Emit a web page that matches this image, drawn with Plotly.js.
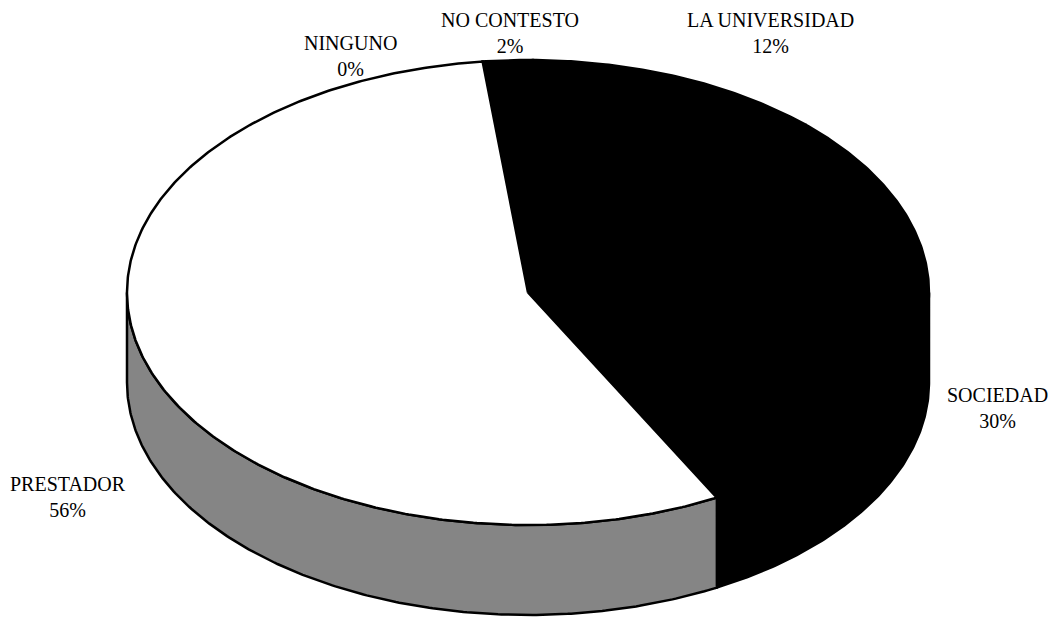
<!DOCTYPE html>
<html>
<head>
<meta charset="utf-8">
<script src="https://cdn.plot.ly/plotly-3.0.1.min.js"></script>
<style>html,body{margin:0;padding:0;background:#fff;}#chart{width:1055px;height:624px;}</style>
</head>
<body>
<div id="chart"></div>
<script>
// ---- data (clockwise order, starting at the top) ----
const categories = ['NO CONTESTO', 'LA UNIVERSIDAD', 'SOCIEDAD', 'PRESTADOR', 'NINGUNO'];
const values = [2, 12, 30, 56, 0];
const percentLabels = ['2%', '12%', '30%', '56%', '0%'];

// ---- styles / geometry (not data) ----
const topColors = ['#000000', '#000000', '#000000', '#ffffff', '#ffffff'];
const sideColors = ['#000000', '#000000', '#000000', '#858585', '#858585'];
const labelPos = [[510, 33], [770, 33], [997, 408], [68, 497], [350, 56]];
const geo = {cx: 528, cy: 292.5, rx: 401, ry: 232.5, depth: 90, start: -6.5};

function pt(deg, dy) {
  const r = deg * Math.PI / 180;
  return [geo.cx + geo.rx * Math.sin(r), geo.cy - geo.ry * Math.cos(r) + (dy || 0)];
}
function arc(a0, a1, dy) {
  const pts = [];
  const n = Math.max(2, Math.ceil(Math.abs(a1 - a0) / 0.5));
  for (let i = 0; i <= n; i++) pts.push(pt(a0 + (a1 - a0) * i / n, dy));
  return pts;
}

const total = values.reduce((a, b) => a + b, 0);
const slices = [];
let acc = geo.start;
values.forEach((v, i) => {
  const span = v / total * 360;
  slices.push({a0: acc, a1: acc + span, i});
  acc += span;
});

const traces = [];
// sides (front half only)
slices.forEach(s => {
  if (s.a1 - s.a0 <= 0) return;
  const lo = Math.max(s.a0, 90), hi = Math.min(s.a1, 270);
  if (hi <= lo) return;
  const topArc = arc(lo, hi, 0);
  const botArc = arc(hi, lo, geo.depth);
  const p = topArc.concat(botArc);
  p.push(topArc[0]);
  traces.push({
    type: 'scatter', mode: 'lines', fill: 'toself',
    x: p.map(q => q[0]), y: p.map(q => q[1]),
    fillcolor: sideColors[s.i], line: {color: '#000', width: 2.5},
    hoverinfo: 'skip', showlegend: false
  });
});
// top faces
slices.forEach(s => {
  if (s.a1 - s.a0 <= 0) return;
  const p = [[geo.cx, geo.cy]].concat(arc(s.a0, s.a1, 0));
  p.push([geo.cx, geo.cy]);
  traces.push({
    type: 'scatter', mode: 'lines', fill: 'toself',
    x: p.map(q => q[0]), y: p.map(q => q[1]),
    fillcolor: topColors[s.i], line: {color: '#000', width: 2.5},
    hoverinfo: 'skip', showlegend: false
  });
});

const annotations = categories.map((c, i) => ({
  x: labelPos[i][0], y: labelPos[i][1], xref: 'x', yref: 'y',
  text: c + '<br>' + percentLabels[i], showarrow: false,
  font: {family: 'Liberation Serif, Times New Roman, serif', size: 20, color: '#000'},
  align: 'center', xanchor: 'center', yanchor: 'middle'
}));

const layout = {
  width: 1055, height: 624,
  margin: {l: 0, r: 0, t: 0, b: 0},
  paper_bgcolor: '#fff', plot_bgcolor: '#fff',
  xaxis: {range: [0, 1055], visible: false, fixedrange: true},
  yaxis: {range: [624, 0], visible: false, fixedrange: true},
  annotations: annotations,
  showlegend: false
};
Plotly.newPlot('chart', traces, layout, {displayModeBar: false, staticPlot: true});
</script>
</body>
</html>
